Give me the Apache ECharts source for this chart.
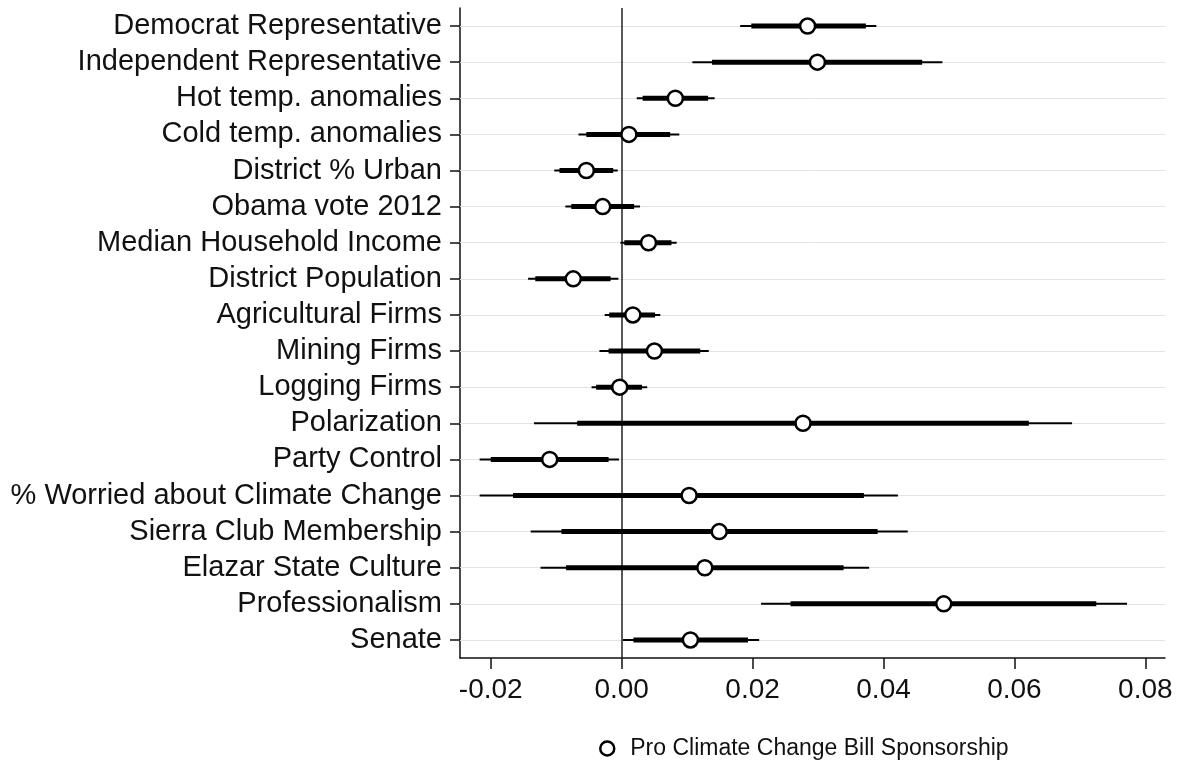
<!DOCTYPE html>
<html>
<head>
<meta charset="utf-8">
<script src="https://cdn.jsdelivr.net/npm/echarts@6/dist/echarts.min.js"></script>
<style>
html,body{margin:0;padding:0;background:#fff;}
#chart{width:1188px;height:765px;}
</style>
</head>
<body>
<div id="chart"></div>
<script>
const categories = [
  'Democrat Representative','Independent Representative','Hot temp. anomalies','Cold temp. anomalies',
  'District % Urban','Obama vote 2012','Median Household Income','District Population',
  'Agricultural Firms','Mining Firms','Logging Firms','Polarization','Party Control',
  '% Worried about Climate Change','Sierra Club Membership','Elazar State Culture','Professionalism','Senate'
];
const estimates = [0.0284, 0.0299, 0.0082, 0.0011, -0.0054, -0.0029, 0.0041, -0.0074, 0.0017, 0.0050, -0.0003, 0.0277, -0.0110, 0.0103, 0.0149, 0.0127, 0.0492, 0.0105];
const ci95Low  = [0.0181, 0.0108, 0.0023, -0.0066, -0.0103, -0.0086, -0.0002, -0.0143, -0.0026, -0.0034, -0.0046, -0.0134, -0.0217, -0.0217, -0.0139, -0.0124, 0.0213, 0.0002];
const ci95High = [0.0389, 0.0490, 0.0142, 0.0088, -0.0006, 0.0028, 0.0084, -0.0005, 0.0059, 0.0133, 0.0039, 0.0688, -0.0004, 0.0422, 0.0437, 0.0378, 0.0772, 0.0210];
const ci90Low  = [0.0198, 0.0138, 0.0032, -0.0054, -0.0095, -0.0077, 0.0004, -0.0132, -0.0019, -0.0020, -0.0039, -0.0068, -0.0200, -0.0166, -0.0092, -0.0085, 0.0258, 0.0018];
const ci90High = [0.0373, 0.0459, 0.0132, 0.0074, -0.0013, 0.0019, 0.0076, -0.0017, 0.0051, 0.0120, 0.0031, 0.0622, -0.0020, 0.0370, 0.0391, 0.0339, 0.0725, 0.0193];
const xTicks = [-0.02, 0.00, 0.02, 0.04, 0.06, 0.08];
const seriesName = 'Pro Climate Change Bill Sponsorship';

const FONT = "'Liberation Sans', Arial, sans-serif";
const chart = echarts.init(document.getElementById('chart'), null, {renderer: 'canvas'});

function ciSeries(name, lows, highs, width, z) {
  return {
    name: name,
    type: 'custom',
    z: z,
    silent: true,
    encode: {x: [0, 1], y: 2},
    data: categories.map((c, i) => [lows[i], highs[i], c]),
    renderItem: function (params, api) {
      const a = api.coord([api.value(0), api.value(2)]);
      const b = api.coord([api.value(1), api.value(2)]);
      return {
        type: 'line',
        shape: {x1: a[0], y1: a[1], x2: b[0], y2: b[1]},
        style: {stroke: '#000', lineWidth: width, lineCap: 'butt', fill: null}
      };
    }
  };
}

const option = {
  animation: false,
  backgroundColor: '#fff',
  textStyle: {fontFamily: FONT},
  grid: {left: 460, right: 23, top: 8, bottom: 107, containLabel: false},
  xAxis: {
    type: 'value',
    min: -0.0247,
    max: 0.083,
    axisLine: {show: true, onZero: false, lineStyle: {color: '#111', width: 1.5}},
    axisTick: {show: true, length: 11, lineStyle: {color: '#111', width: 1.5}, customValues: xTicks},
    axisLabel: {
      fontSize: 28, color: '#111', fontFamily: FONT, margin: 18,
      customValues: xTicks,
      formatter: v => v.toFixed(2)
    },
    splitLine: {show: false}
  },
  yAxis: {
    type: 'category',
    data: categories,
    inverse: true,
    boundaryGap: true,
    position: 'left',
    axisLine: {show: true, onZero: false, lineStyle: {color: '#111', width: 1.5}},
    axisTick: {show: true, alignWithLabel: true, interval: 0, length: 10, lineStyle: {color: '#111', width: 1.5}},
    axisLabel: {fontSize: 29, interval: 0, color: '#111', fontFamily: FONT, margin: 18},
    splitLine: {show: false}
  },
  legend: {
    show: true,
    left: 594,
    top: 732,
    itemWidth: 36,
    itemHeight: 14,
    data: [{name: seriesName, icon: 'circle', itemStyle: {color: '#fff', borderColor: '#000', borderWidth: 2.5}}],
    textStyle: {fontSize: 23, color: '#111', fontFamily: FONT}
  },
  series: [
    {
      name: 'grid',
      type: 'line',
      data: [],
      z: 1,
      silent: true,
      markLine: {
        z: 1,
        silent: true,
        symbol: ['none', 'none'],
        label: {show: false},
        lineStyle: {color: '#e3e3e3', width: 1, type: 'solid'},
        data: categories.map(c => ({yAxis: c}))
      }
    },
    {
      name: 'zero',
      type: 'line',
      data: [],
      z: 2,
      silent: true,
      markLine: {
        z: 2,
        silent: true,
        symbol: ['none', 'none'],
        label: {show: false},
        lineStyle: {color: '#222', width: 1.5, type: 'solid'},
        data: [{xAxis: 0}]
      }
    },
    ciSeries('ci95', ci95Low, ci95High, 2, 3),
    ciSeries('ci90', ci90Low, ci90High, 5, 4),
    {
      name: seriesName,
      type: 'scatter',
      z: 5,
      symbol: 'circle',
      symbolSize: 15,
      itemStyle: {color: '#fff', borderColor: '#000', borderWidth: 2.5, opacity: 1},
      data: categories.map((c, i) => [estimates[i], c])
    }
  ]
};
chart.setOption(option);
</script>
</body>
</html>
